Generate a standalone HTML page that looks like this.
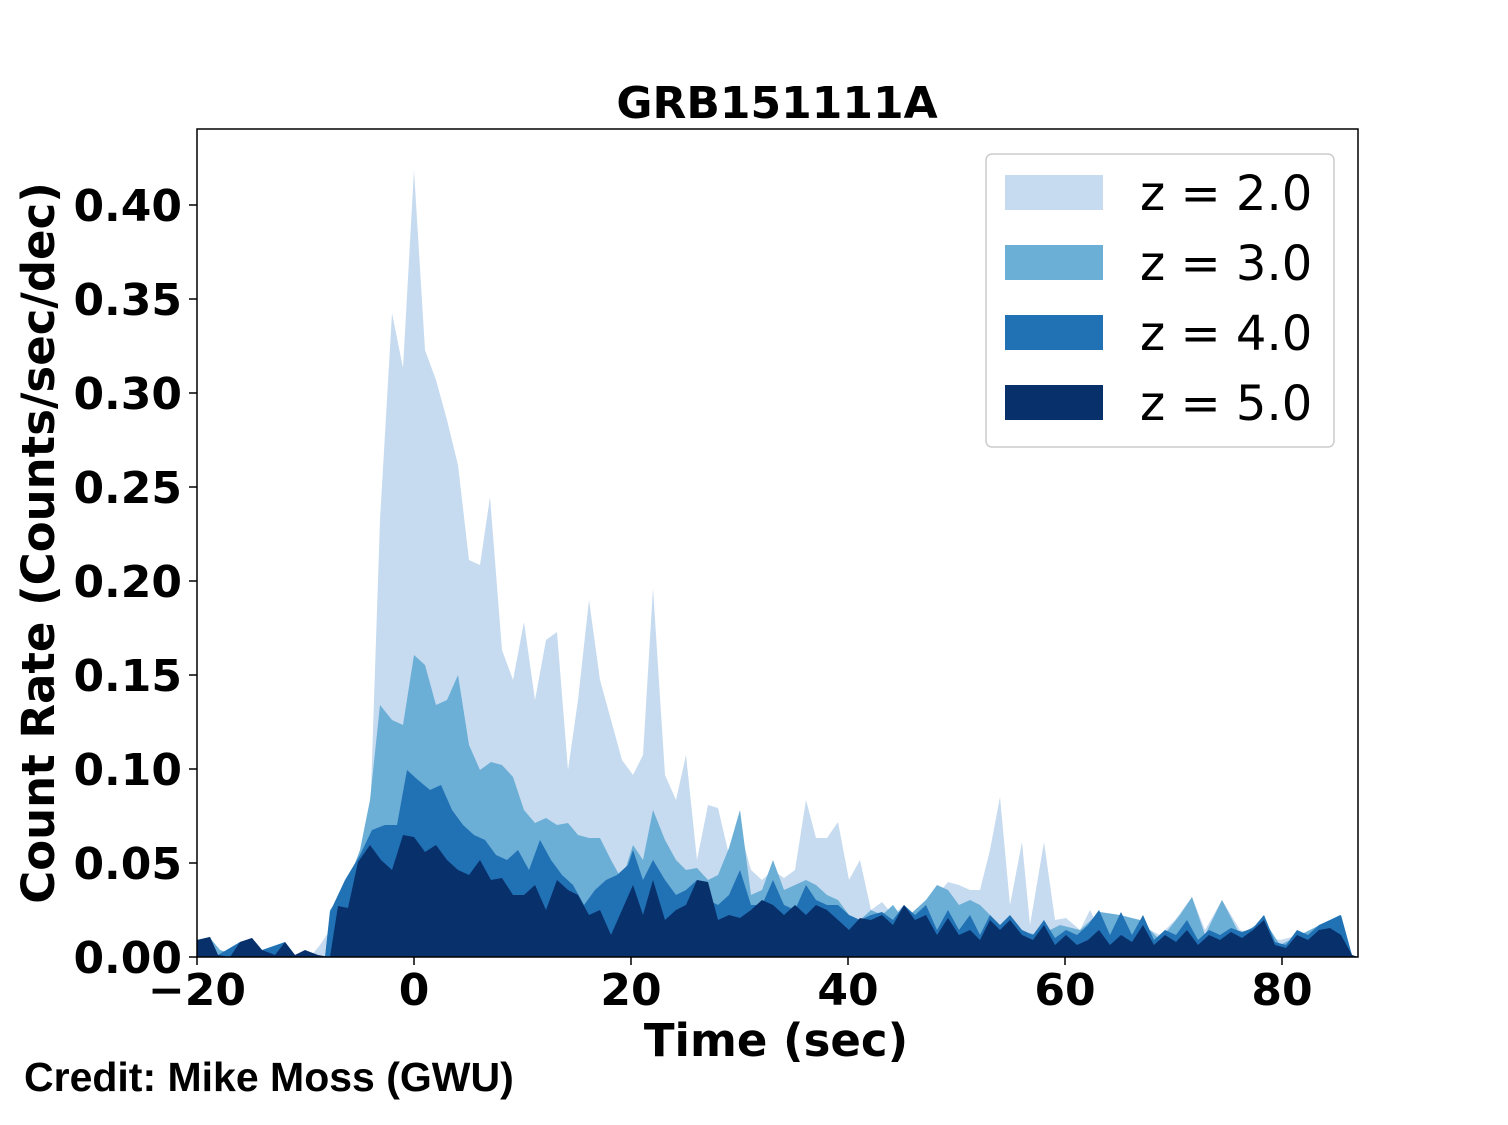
<!DOCTYPE html>
<html><head><meta charset="utf-8"><style>html,body{margin:0;padding:0;background:#fff}</style></head>
<body>
<svg width="1508" height="1125" xmlns="http://www.w3.org/2000/svg" style="display:block">
<rect width="1508" height="1125" fill="#fff"/>
<defs><clipPath id="c"><rect x="197" y="129" width="1161" height="828"/></clipPath></defs>
<g clip-path="url(#c)">
<polygon fill="#c6dbef" points="197,957 197,940 210,938 220,950 240,957 310,957 320,945 330,930 340,905 352,880 370,820 380,520 392,313 403,368 414,170 425,350 436,380 447,420 458,465 469,560 480,565 490,497 502,650 513,680 524,622 535,700 546,640 557,632 568,770 578,700 589,600 600,680 611,720 622,760 633,775 643,755 653,588 665,775 676,800 686,755 697,860 708,805 718,808 729,855 740,830 751,870 762,880 773,870 784,878 795,870 806,800 816,838 827,838 838,822 849,880 860,860 871,910 882,902 893,915 904,905 915,915 926,910 937,895 948,882 959,885 970,890 980,890 990,850 1000,797 1010,905 1022,842 1030,925 1044,842 1055,920 1066,918 1080,930 1090,910 1100,930 1120,915 1140,925 1160,935 1175,920 1192,897 1205,930 1222,900 1240,930 1260,935 1280,940 1300,935 1320,925 1340,915 1350,955 1358,957"/>
<polygon fill="#6baed6" points="197,957 197,940 210,938 220,950 240,957 325,957 330,910 345,890 360,850 370,800 380,705 392,720 403,725 414,655 425,665 436,705 447,700 458,675 469,745 480,770 491,762 502,765 513,777 524,810 535,823 546,818 557,825 568,823 578,835 589,838 600,838 611,860 622,880 633,845 643,860 653,810 665,840 676,860 686,870 697,868 708,880 718,875 729,848 740,810 751,895 762,890 773,860 784,890 795,885 806,880 816,885 827,895 838,900 849,915 860,920 871,910 882,915 893,905 904,920 915,910 926,900 937,885 948,890 959,905 970,900 980,905 990,915 1000,930 1010,920 1022,932 1040,935 1060,925 1080,930 1100,912 1120,915 1140,920 1160,940 1180,915 1192,897 1205,935 1222,900 1240,935 1264,920 1280,945 1300,935 1320,925 1340,915 1350,955 1358,957"/>
<polygon fill="#2171b5" points="197,957 197,940 210,937 218,955 240,942 252,938 262,950 285,942 295,955 325,957 330,912 345,880 360,855 372,830 385,825 397,825 407,770 418,780 430,790 441,785 452,810 463,825 474,835 485,840 496,855 507,860 518,850 529,870 540,840 551,860 562,875 573,885 584,905 595,890 606,880 617,875 628,865 633,850 643,880 653,860 665,880 676,895 686,890 697,880 708,900 718,905 729,895 740,870 751,905 762,905 773,880 784,905 795,910 806,885 816,900 827,905 838,905 849,915 860,920 871,915 882,912 893,920 904,905 915,915 926,905 937,930 948,910 959,930 970,915 980,935 990,915 1000,925 1010,915 1022,930 1033,935 1044,920 1055,938 1066,930 1077,935 1088,925 1099,910 1110,935 1121,912 1132,935 1143,915 1154,940 1165,930 1176,935 1187,920 1198,940 1209,930 1220,935 1231,928 1242,932 1253,928 1264,915 1275,942 1286,945 1297,930 1308,935 1319,925 1330,920 1341,915 1352,955 1358,957"/>
<polygon fill="#08306b" points="197,957 197,940 210,937 218,955 230,957 240,942 252,938 262,950 275,955 285,942 295,955 305,950 318,955 330,957 338,906 348,908 358,862 370,845 381,860 392,870 403,835 414,837 425,852 436,845 447,860 458,870 469,875 480,860 491,880 502,878 513,895 524,895 535,885 546,910 557,880 568,890 578,895 589,915 600,910 611,935 622,910 633,885 643,915 653,880 665,920 676,910 686,905 697,880 708,882 718,920 729,915 740,918 751,910 762,900 773,905 784,915 795,905 806,915 816,905 827,910 838,920 849,930 860,918 871,920 882,915 893,925 904,905 915,920 926,915 937,935 948,918 959,935 970,930 980,940 990,920 1000,930 1010,920 1022,935 1033,940 1044,925 1055,945 1066,935 1077,945 1088,940 1099,930 1110,945 1121,935 1132,942 1143,925 1154,945 1165,935 1176,942 1187,930 1198,945 1209,935 1220,940 1231,932 1242,938 1253,930 1264,920 1275,945 1286,948 1297,935 1308,940 1319,930 1330,928 1341,935 1352,955 1358,957"/>
</g>
<rect x="197" y="129" width="1161" height="828" fill="none" stroke="#000" stroke-width="1.5"/>
<g stroke="#000" stroke-width="1.5">
<line x1="189" y1="957" x2="197" y2="957"/><line x1="189" y1="863" x2="197" y2="863"/><line x1="189" y1="769" x2="197" y2="769"/><line x1="189" y1="675" x2="197" y2="675"/><line x1="189" y1="581" x2="197" y2="581"/><line x1="189" y1="487" x2="197" y2="487"/><line x1="189" y1="393" x2="197" y2="393"/><line x1="189" y1="299" x2="197" y2="299"/><line x1="189" y1="205" x2="197" y2="205"/>
<line x1="197" y1="957" x2="197" y2="965"/><line x1="414" y1="957" x2="414" y2="965"/><line x1="631" y1="957" x2="631" y2="965"/><line x1="848" y1="957" x2="848" y2="965"/><line x1="1065" y1="957" x2="1065" y2="965"/><line x1="1282" y1="957" x2="1282" y2="965"/>
</g>
<g font-family="DejaVu Sans, sans-serif" font-weight="bold" font-size="44" fill="#000">
<g text-anchor="end">
<text x="182" y="973">0.00</text><text x="182" y="879">0.05</text><text x="182" y="785">0.10</text><text x="182" y="691">0.15</text><text x="182" y="597">0.20</text><text x="182" y="503">0.25</text><text x="182" y="409">0.30</text><text x="182" y="315">0.35</text><text x="182" y="221">0.40</text>
</g>
<g text-anchor="middle">
<text x="197" y="1005">−20</text><text x="414" y="1005">0</text><text x="631" y="1005">20</text><text x="848" y="1005">40</text><text x="1065" y="1005">60</text><text x="1282" y="1005">80</text>
<text x="777" y="118">GRB151111A</text>
<text x="776" y="1056" font-size="45">Time (sec)</text>
<text transform="translate(54,543) rotate(-90)" font-size="45">Count Rate (Counts/sec/dec)</text>
</g>
</g>
<rect x="986" y="154" width="348" height="293" rx="6" fill="#fff" fill-opacity="0.8" stroke="#ccc" stroke-width="1.5"/>
<rect x="1005" y="175" width="98" height="35" fill="#c6dbef"/>
<rect x="1005" y="245" width="98" height="35" fill="#6baed6"/>
<rect x="1005" y="315" width="98" height="35" fill="#2171b5"/>
<rect x="1005" y="385" width="98" height="35" fill="#08306b"/>
<g font-family="DejaVu Sans, sans-serif" font-size="48" fill="#000">
<text x="1140" y="210">z = 2.0</text><text x="1140" y="280">z = 3.0</text><text x="1140" y="350">z = 4.0</text><text x="1140" y="420">z = 5.0</text>
</g>
<text x="24" y="1091" font-family="Liberation Sans, sans-serif" font-weight="bold" font-size="41" fill="#000">Credit: Mike Moss (GWU)</text>
</svg>
</body></html>
